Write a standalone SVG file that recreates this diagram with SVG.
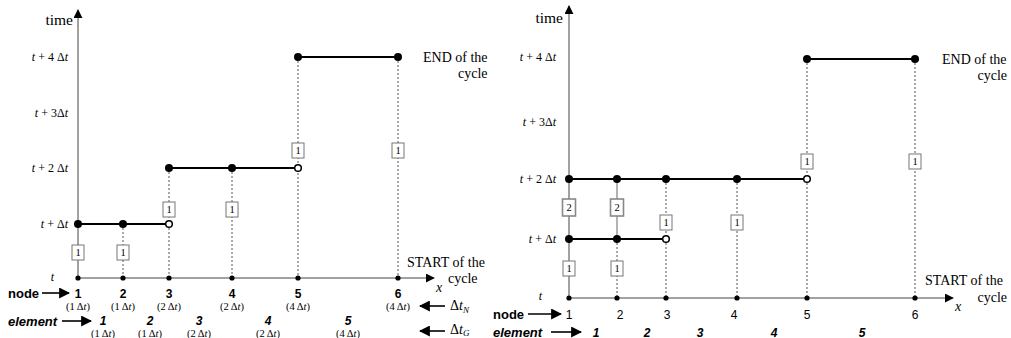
<svg xmlns="http://www.w3.org/2000/svg" width="1011" height="338" viewBox="0 0 1011 338">
  <defs>
    <marker id="ah" viewBox="0 0 10 10" refX="9" refY="5" markerWidth="9" markerHeight="9" markerUnits="userSpaceOnUse" orient="auto">
      <path d="M0,0 L10,5 L0,10 z" fill="#000"/>
    </marker>
    <marker id="ahb" viewBox="0 0 10 10" refX="9" refY="5" markerWidth="11" markerHeight="11" markerUnits="userSpaceOnUse" orient="auto">
      <path d="M0,0 L10,5 L0,10 z" fill="#000"/>
    </marker>
  </defs>
  <style>
    .axis{stroke:#444;stroke-width:1;fill:none}
    .dot{stroke:#555;stroke-width:1;stroke-dasharray:2,2;fill:none}
    .vsolid{stroke:#666;stroke-width:1;fill:none}
    .seg{stroke:#000;stroke-width:2.2;fill:none}
    .arr{stroke:#000;stroke-width:1.6;fill:none}
    .full{fill:#000}
    .open{fill:#fff;stroke:#000;stroke-width:1.5}
    .tick{fill:#000}
    .box{fill:#fff;stroke:#777;stroke-width:1}
    .box2{fill:#fff;stroke:#888;stroke-width:1.6}
    .bt{font-family:"Liberation Serif",serif;font-size:10.5px;text-anchor:middle;fill:#000}
    .lab{font-family:"Liberation Serif",serif;font-size:12px;fill:#000}
    .tl{font-family:"Liberation Serif",serif;font-size:14px;fill:#000}
    .big{font-size:15.5px}
    .it{font-style:italic}
    .nl{font-family:"Liberation Sans",sans-serif;font-size:12px;font-weight:bold;text-anchor:middle;fill:#000}
    .nr{font-family:"Liberation Sans",sans-serif;font-size:12px;text-anchor:middle;fill:#000}
    .el{font-family:"Liberation Sans",sans-serif;font-size:12px;font-weight:bold;font-style:italic;text-anchor:middle;fill:#000}
    .hd{font-family:"Liberation Sans",sans-serif;font-size:13px;font-weight:bold;fill:#000}
    .dt{font-family:"Liberation Serif",serif;font-size:10.5px;text-anchor:middle;fill:#000}
  </style>

  <!-- ===== Left chart ===== -->
  <g id="left-axes">
    <line class="axis" x1="78" y1="278" x2="78" y2="10" marker-end="url(#ah)"/>
    <line class="axis" x1="78" y1="278" x2="434" y2="278" marker-end="url(#ah)"/>
    <text class="tl big" x="73" y="25" text-anchor="end">time</text>
    <text class="tl it" x="436" y="292">x</text>
    <text class="lab" x="68" y="61" text-anchor="end"><tspan class="it">t</tspan> + 4 Δ<tspan class="it">t</tspan></text>
    <text class="lab" x="68" y="117" text-anchor="end"><tspan class="it">t</tspan> + 3Δ<tspan class="it">t</tspan></text>
    <text class="lab" x="68" y="172" text-anchor="end"><tspan class="it">t</tspan> + 2 Δ<tspan class="it">t</tspan></text>
    <text class="lab" x="68" y="228" text-anchor="end"><tspan class="it">t</tspan> + Δ<tspan class="it">t</tspan></text>
    <text class="lab it" x="54" y="281" text-anchor="end">t</text>
    <text class="tl" x="423" y="62">END of the</text>
    <text class="tl" x="458" y="78">cycle</text>
    <text class="tl" x="407" y="267">START of the</text>
    <text class="tl" x="448" y="283">cycle</text>
  </g>

  <g id="left-connectors">
    <line class="dot" x1="123" y1="224" x2="123" y2="278"/>
    <line class="dot" x1="169" y1="168" x2="169" y2="278"/>
    <line class="dot" x1="232" y1="168" x2="232" y2="278"/>
    <line class="dot" x1="298" y1="57" x2="298" y2="278"/>
    <line class="dot" x1="398" y1="57" x2="398" y2="278"/>
    <line class="seg" x1="78" y1="224" x2="169" y2="224"/>
    <line class="seg" x1="169" y1="168" x2="298" y2="168"/>
    <line class="seg" x1="298" y1="57" x2="398" y2="57"/>
  </g>

  <g id="left-nodes">
    <circle class="full" cx="78" cy="224" r="4"/>
    <circle class="full" cx="123" cy="224" r="4"/>
    <circle class="open" cx="169" cy="224" r="3.3"/>
    <circle class="full" cx="169" cy="168" r="4"/>
    <circle class="full" cx="232" cy="168" r="4"/>
    <circle class="open" cx="298" cy="168" r="3.3"/>
    <circle class="full" cx="298" cy="57" r="4"/>
    <circle class="full" cx="398" cy="57" r="4"/>
    <g class="tick">
      <circle cx="78" cy="278" r="2.6"/><circle cx="123" cy="278" r="2.6"/><circle cx="169" cy="278" r="2.6"/>
      <circle cx="232" cy="278" r="2.6"/><circle cx="298" cy="278" r="2.6"/><circle cx="398" cy="278" r="2.6"/>
    </g>
  </g>

  <g id="left-boxes">
    <rect class="box" x="72" y="245" width="12" height="15"/><text class="bt" x="78" y="256">1</text>
    <rect class="box" x="117" y="245" width="12" height="15"/><text class="bt" x="123" y="256">1</text>
    <rect class="box" x="163" y="202" width="12" height="15"/><text class="bt" x="169" y="213">1</text>
    <rect class="box" x="226" y="202" width="12" height="15"/><text class="bt" x="232" y="213">1</text>
    <rect class="box" x="292" y="143" width="12" height="15"/><text class="bt" x="298" y="154">1</text>
    <rect class="box" x="392" y="143" width="12" height="15"/><text class="bt" x="398" y="154">1</text>
  </g>

  <g id="left-labels">
    <text class="hd" x="8" y="298">node</text>
    <line class="arr" x1="42" y1="293" x2="69" y2="293" marker-end="url(#ahb)"/>
    <text class="nl" x="78" y="298">1</text>
    <text class="nl" x="123" y="298">2</text>
    <text class="nl" x="169" y="298">3</text>
    <text class="nl" x="232" y="298">4</text>
    <text class="nl" x="298" y="298">5</text>
    <text class="nl" x="398" y="298">6</text>
    <text class="dt" x="78" y="310">(1 Δ<tspan class="it">t</tspan>)</text>
    <text class="dt" x="123" y="310">(1 Δ<tspan class="it">t</tspan>)</text>
    <text class="dt" x="169" y="310">(2 Δ<tspan class="it">t</tspan>)</text>
    <text class="dt" x="232" y="310">(2 Δ<tspan class="it">t</tspan>)</text>
    <text class="dt" x="298" y="310">(4 Δ<tspan class="it">t</tspan>)</text>
    <text class="dt" x="398" y="310">(4 Δ<tspan class="it">t</tspan>)</text>
    <text class="hd it" x="8" y="326">element</text>
    <line class="arr" x1="62" y1="321" x2="91" y2="321" marker-end="url(#ahb)"/>
    <text class="el" x="103" y="325">1</text>
    <text class="el" x="150" y="325">2</text>
    <text class="el" x="199" y="325">3</text>
    <text class="el" x="268" y="325">4</text>
    <text class="el" x="348" y="325">5</text>
    <text class="dt" x="103" y="337">(1 Δ<tspan class="it">t</tspan>)</text>
    <text class="dt" x="150" y="337">(1 Δ<tspan class="it">t</tspan>)</text>
    <text class="dt" x="199" y="337">(2 Δ<tspan class="it">t</tspan>)</text>
    <text class="dt" x="268" y="337">(2 Δ<tspan class="it">t</tspan>)</text>
    <text class="dt" x="348" y="337">(4 Δ<tspan class="it">t</tspan>)</text>
    <line class="arr" x1="445" y1="306" x2="420" y2="306" marker-end="url(#ahb)"/>
    <text class="tl" x="450" y="310">Δ<tspan class="it">t</tspan><tspan class="it" font-size="9" dy="3">N</tspan></text>
    <line class="arr" x1="445" y1="331" x2="420" y2="331" marker-end="url(#ahb)"/>
    <text class="tl" x="450" y="334">Δ<tspan class="it">t</tspan><tspan class="it" font-size="9" dy="2">G</tspan></text>
  </g>

  <!-- ===== Right chart ===== -->
  <g id="right-axes">
    <line class="axis" x1="569" y1="298" x2="569" y2="6" marker-end="url(#ah)"/>
    <line class="axis" x1="569" y1="298" x2="953" y2="298" marker-end="url(#ah)"/>
    <text class="tl big" x="563" y="23" text-anchor="end">time</text>
    <text class="tl it" x="955" y="311">x</text>
    <text class="lab" x="556" y="61" text-anchor="end"><tspan class="it">t</tspan> + 4 Δ<tspan class="it">t</tspan></text>
    <text class="lab" x="556" y="126" text-anchor="end"><tspan class="it">t</tspan> + 3Δ<tspan class="it">t</tspan></text>
    <text class="lab" x="556" y="183" text-anchor="end"><tspan class="it">t</tspan> + 2 Δ<tspan class="it">t</tspan></text>
    <text class="lab" x="556" y="243" text-anchor="end"><tspan class="it">t</tspan> + Δ<tspan class="it">t</tspan></text>
    <text class="lab it" x="542" y="300" text-anchor="end">t</text>
    <text class="tl" x="942" y="64">END of the</text>
    <text class="tl" x="1007" y="80" text-anchor="end">cycle</text>
    <text class="tl" x="925" y="285">START of the</text>
    <text class="tl" x="1007" y="302" text-anchor="end">cycle</text>
  </g>

  <g id="right-connectors">
    <line class="vsolid" x1="617" y1="179" x2="617" y2="239"/>
    <line class="dot" x1="617" y1="239" x2="617" y2="298"/>
    <line class="dot" x1="666" y1="179" x2="666" y2="298"/>
    <line class="dot" x1="737" y1="179" x2="737" y2="298"/>
    <line class="dot" x1="807" y1="59" x2="807" y2="298"/>
    <line class="dot" x1="915" y1="59" x2="915" y2="298"/>
    <line class="seg" x1="569" y1="239" x2="666" y2="239"/>
    <line class="seg" x1="569" y1="179" x2="807" y2="179"/>
    <line class="seg" x1="807" y1="59" x2="915" y2="59"/>
  </g>

  <g id="right-nodes">
    <circle class="full" cx="569" cy="239" r="4"/>
    <circle class="full" cx="617" cy="239" r="4"/>
    <circle class="open" cx="666" cy="239" r="3.3"/>
    <circle class="full" cx="569" cy="179" r="4"/>
    <circle class="full" cx="617" cy="179" r="4"/>
    <circle class="full" cx="666" cy="179" r="4"/>
    <circle class="full" cx="737" cy="179" r="4"/>
    <circle class="open" cx="807" cy="179" r="3.3"/>
    <circle class="full" cx="807" cy="59" r="4"/>
    <circle class="full" cx="915" cy="59" r="4"/>
    <g class="tick">
      <circle cx="569" cy="298" r="2.6"/><circle cx="617" cy="298" r="2.6"/><circle cx="666" cy="298" r="2.6"/>
      <circle cx="737" cy="298" r="2.6"/><circle cx="807" cy="298" r="2.6"/><circle cx="915" cy="298" r="2.6"/>
    </g>
  </g>

  <g id="right-boxes">
    <rect class="box2" x="562.5" y="199" width="13" height="17"/><text class="bt" x="569" y="211">2</text>
    <rect class="box2" x="610.5" y="199" width="13" height="17"/><text class="bt" x="617" y="211">2</text>
    <rect class="box" x="563" y="261" width="12" height="15"/><text class="bt" x="569" y="272">1</text>
    <rect class="box" x="611" y="261" width="12" height="15"/><text class="bt" x="617" y="272">1</text>
    <rect class="box" x="660" y="215" width="12" height="15"/><text class="bt" x="666" y="226">1</text>
    <rect class="box" x="731" y="215" width="12" height="15"/><text class="bt" x="737" y="226">1</text>
    <rect class="box" x="801" y="154" width="12" height="15"/><text class="bt" x="807" y="165">1</text>
    <rect class="box" x="909" y="154" width="12" height="15"/><text class="bt" x="915" y="165">1</text>
  </g>

  <g id="right-labels">
    <text class="hd" x="493" y="319">node</text>
    <line class="arr" x1="528" y1="314" x2="561" y2="314" marker-end="url(#ahb)"/>
    <text class="nr" x="569" y="319">1</text>
    <text class="nr" x="620" y="319">2</text>
    <text class="nr" x="667" y="319">3</text>
    <text class="nr" x="734" y="319">4</text>
    <text class="nr" x="807" y="319">5</text>
    <text class="nr" x="915" y="319">6</text>
    <text class="hd it" x="493" y="337">element</text>
    <line class="arr" x1="551" y1="332" x2="581" y2="332" marker-end="url(#ahb)"/>
    <text class="el" x="596" y="337">1</text>
    <text class="el" x="647" y="337">2</text>
    <text class="el" x="700" y="337">3</text>
    <text class="el" x="774" y="337">4</text>
    <text class="el" x="862" y="337">5</text>
  </g>
</svg>
